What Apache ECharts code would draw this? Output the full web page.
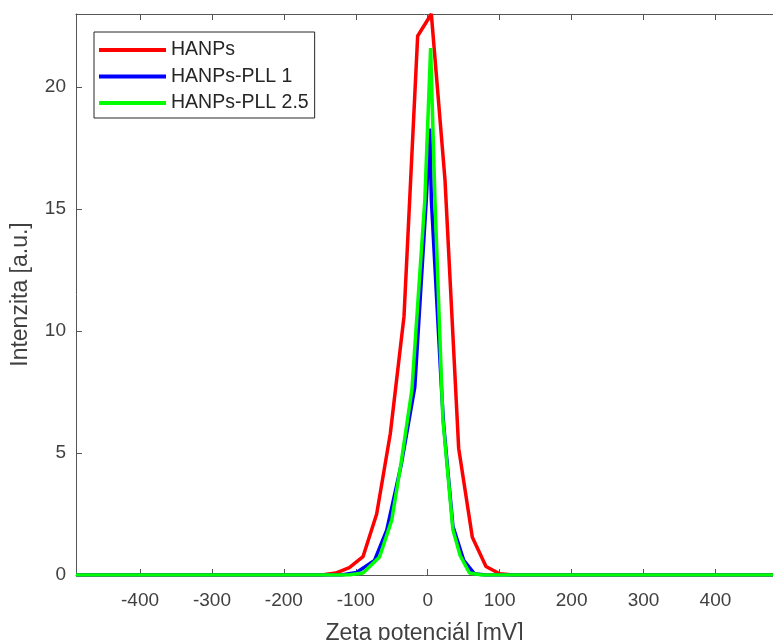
<!DOCTYPE html>
<html>
<head>
<meta charset="utf-8">
<script src="https://cdn.jsdelivr.net/npm/echarts@6/dist/echarts.min.js"></script>
<style>html,body{margin:0;padding:0;background:#fff;}#c{width:773px;height:640px;}</style>
</head>
<body>
<div id="c"></div>
<script>
// Data (x in mV, y intensity)
const seriesNames = ['HANPs', 'HANPs-PLL 1', 'HANPs-PLL 2.5'];
const hanpsX = [-489, -147, -128, -109, -90, -71, -52, -33, -14, 5, 24, 43, 62, 81, 100, 119, 480];
const hanpsY = [0, 0, 0.08, 0.3, 0.75, 2.5, 5.8, 10.6, 22.1, 23.0, 16.2, 5.2, 1.55, 0.35, 0.05, 0, 0];
const pll1X = [-489, -120, -99, -74, -57, -37, -18, -2, 3, 5, 19, 22, 35, 50, 65, 80, 480];
const pll1Y = [0, 0, 0.1, 0.6, 1.84, 4.5, 7.7, 15.4, 18.3, 15.4, 7.7, 6.2, 2.0, 0.6, 0.05, 0, 0];
const pll25X = [-489, -110, -90, -67, -50, -37, -22, -4, 4, 10, 21, 35, 45, 58, 75, 480];
const pll25Y = [0, 0, 0.08, 0.74, 2.25, 4.6, 7.6, 15.4, 21.6, 15.4, 6.4, 1.85, 0.8, 0.08, 0, 0];
const xTicks = [-400, -300, -200, -100, 0, 100, 200, 300, 400];
const yTicks = [0, 5, 10, 15, 20];
const xLabel = 'Zeta potenciál [mV]';
const yLabel = 'Intenzita [a.u.]';
const colors = ['#ff0000', '#0000ff', '#00ff00'];

const zip = (xs, ys) => xs.map((x, i) => [x, ys[i]]);
const chart = echarts.init(document.getElementById('c'));
const axisCol = '#555555';
const txtCol = '#404040';
const font = 'Liberation Sans, Arial, Helvetica, sans-serif';

chart.setOption({
  animation: false,
  grid: { left: 76, right: 0, top: 14, bottom: 65, containLabel: false, outerBoundsMode: 'none' },
  legend: {
    left: 94, top: 32, orient: 'vertical',
    data: seriesNames,
    icon: 'rect', itemWidth: 67, itemHeight: 4, itemGap: 6.5,
    padding: [8, 6, 5, 5],
    borderColor: '#262626', borderWidth: 1, backgroundColor: '#fff',
    textStyle: { fontSize: 19.5, color: '#262626', fontFamily: font, lineHeight: 19.5 }
  },
  xAxis: [{
    type: 'value', min: -489, max: 480, position: 'bottom',
    name: xLabel, nameLocation: 'middle', nameGap: 47,
    nameTextStyle: { fontSize: 23, color: txtCol, fontFamily: font },
    axisLine: { onZero: false, lineStyle: { color: axisCol, width: 1 } },
    axisTick: { inside: true, length: 6, customValues: xTicks, lineStyle: { color: axisCol } },
    axisLabel: { customValues: xTicks, fontSize: 19, color: txtCol, fontFamily: font, margin: 16 },
    splitLine: { show: false }
  }, {
    type: 'value', min: -489, max: 480, position: 'top',
    axisLine: { onZero: false, lineStyle: { color: axisCol, width: 1 } },
    axisTick: { inside: true, length: 6, customValues: xTicks, lineStyle: { color: axisCol } },
    axisLabel: { show: false },
    splitLine: { show: false }
  }],
  yAxis: {
    type: 'value', min: 0, max: 23, position: 'left',
    name: yLabel, nameLocation: 'middle', nameGap: 44,
    nameTextStyle: { fontSize: 23, color: txtCol, fontFamily: font },
    axisLine: { show: true, onZero: false, lineStyle: { color: axisCol, width: 1 } },
    axisTick: { show: true, inside: true, length: 6, customValues: yTicks, lineStyle: { color: axisCol } },
    axisLabel: { customValues: yTicks, fontSize: 19, color: txtCol, fontFamily: font, margin: 10 },
    splitLine: { show: false }
  },
  series: [
    { name: seriesNames[0], type: 'line', data: zip(hanpsX, hanpsY), symbol: 'none', lineStyle: { width: 3.5, color: colors[0] }, itemStyle: { color: colors[0] }, z: 2 },
    { name: seriesNames[1], type: 'line', data: zip(pll1X, pll1Y), symbol: 'none', lineStyle: { width: 3.5, color: colors[1] }, itemStyle: { color: colors[1] }, z: 3 },
    { name: seriesNames[2], type: 'line', data: zip(pll25X, pll25Y), symbol: 'none', lineStyle: { width: 3.5, color: colors[2] }, itemStyle: { color: colors[2] }, z: 4 }
  ]
});
</script>
</body>
</html>
